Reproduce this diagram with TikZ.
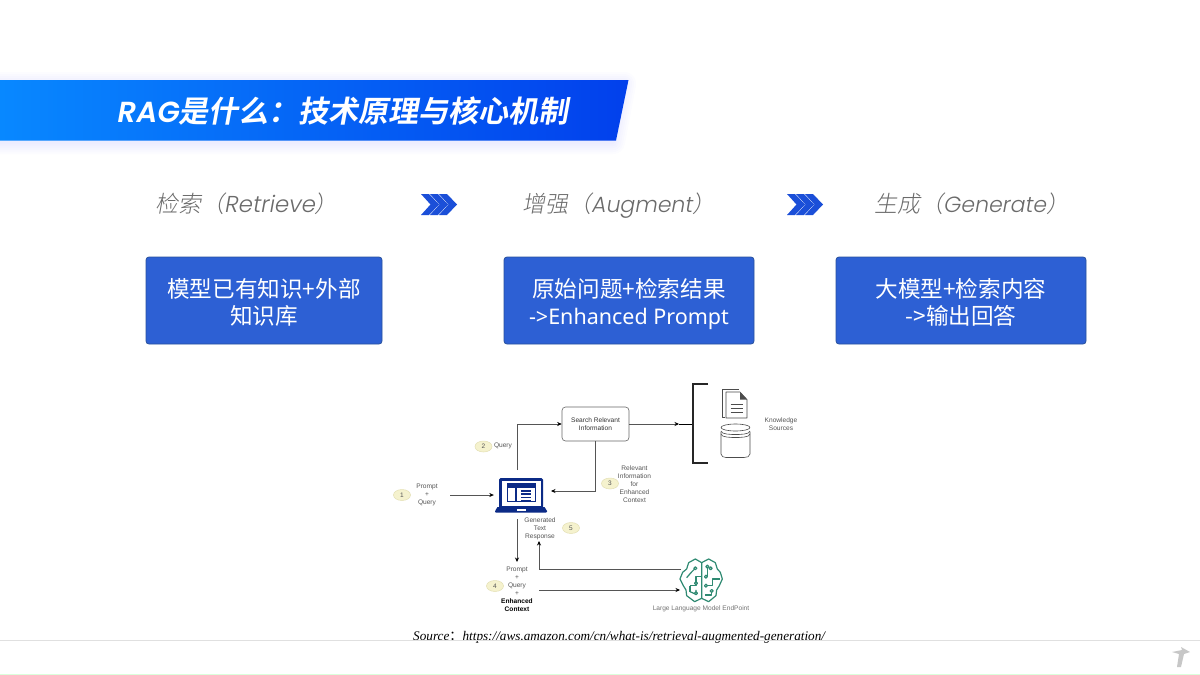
\documentclass[tikz,border=0pt]{standalone}
\usepackage{fontspec}
\usetikzlibrary{arrows.meta}
\usetikzlibrary{shapes.geometric}
\setmainfont{Liberation Sans}
\newfontfamily\cjk{Noto Sans CJK SC}
\newfontfamily\cjkslant[FakeSlant=0.18]{Noto Sans CJK SC Light}
\newfontfamily\cjkbold[FakeSlant=0.18]{Noto Sans CJK SC Bold}
\newfontfamily\latslant[FakeSlant=0.18]{Poppins Light}
\newfontfamily\latbold[FakeSlant=0.18]{Poppins SemiBold}
\newfontfamily\latbox{Noto Sans}
\newfontfamily\srcfont{Liberation Serif}
\definecolor{boxblue}{HTML}{2D60D4}
\definecolor{boxedge}{HTML}{28509C}
\definecolor{chev}{HTML}{1B4FD8}
\definecolor{navy}{HTML}{0B2A86}
\definecolor{teal1}{HTML}{2F8A72}
\definecolor{badgefill}{HTML}{F5F2CE}
\definecolor{badgeedge}{HTML}{E4E0B4}
\definecolor{smalltxt}{HTML}{555555}
\definecolor{linegrey}{HTML}{555555}
\tikzset{
  x=1pt,y=-1pt,
  stagehead/.style={inner sep=0pt,anchor=base west,text=black!58,font=\fontsize{23}{28}\selectfont},
  bluebox/.style={draw=boxedge,line width=.8pt,fill=boxblue,rounded corners=3pt,text=white,inner sep=0pt,align=center,text depth=0pt,font=\cjk\fontsize{22.6}{27}\selectfont},
  small/.style={inner sep=0pt,text=smalltxt,align=center,font=\fontsize{6.6}{8}\selectfont},
  badge/.style={ellipse,draw=badgeedge,fill=badgefill,line width=.5pt,minimum width=17pt,minimum height=11pt,inner sep=0pt,text=smalltxt,font=\fontsize{6.5}{7}\selectfont},
  conn/.style={draw=linegrey,line width=.6pt},
  arr/.style={conn,-{Stealth[length=4.5pt,width=4pt,color=black]}},
  iconline/.style={draw=black!70,line width=.6pt,line join=round},
  chevshape/.style={fill=chev},
}
\newcommand{\chevrons}[1]{%
  \foreach \q in {0,9,18}{
    \fill[chevshape,shift={(#1+\q,0)}] (0,194) -- (8,194) -- (18,204.5) -- (8,215) -- (0,215) -- (9.5,204.5) -- cycle;
  }}
\begin{document}
\begin{tikzpicture}
\useasboundingbox (0,0) rectangle (1200,675);
\fill[white] (0,0) rectangle (1200,675);
% banner shadow
\foreach \w in {24,20,16,12,8,4}{
  \draw[line width=\w pt,blue!70!white,opacity=.014,line join=round] (-20,84) -- (624,84) -- (613,142) -- (-20,142) -- cycle;
}
\shade[left color={rgb,255:red,8;green,136;blue,255},right color={rgb,255:red,2;green,64;blue,236}]
  (0,80) -- (628.5,80) -- (616,140.5) -- (0,140.5) -- cycle;
\node[anchor=west,inner sep=0pt,text=white] (title) at (116.5,110.5) {\fontsize{29}{34}\selectfont{\latbold RAG}\cjkbold\fontsize{30}{34}\selectfont 是什么：技术原理与核心机制};
% stage headings
\node[stagehead] (h1) at (155,212) {\cjkslant 检索（{\latslant Retrieve}）};
\node[stagehead] (h2) at (522,212) {\cjkslant 增强（{\latslant\fontsize{22}{28}\selectfont Augment}）};
\node[stagehead] (h3) at (874,212) {\cjkslant 生成（{\latslant\fontsize{22}{28}\selectfont Generate}）};
\chevrons{421}
\chevrons{787}
% blue boxes
\node[bluebox,minimum width=236pt,minimum height=87pt] (b1) at (264,300.5) {\raisebox{-2pt}{模型已有知识+外部}\\\raisebox{-2pt}{知识库}};
\node[bluebox,minimum width=250pt,minimum height=87pt] (b2) at (629,300.5) {\raisebox{-2pt}{原始问题+检索结果}\\\raisebox{-2pt}{\latbox\fontsize{21.5}{27}\selectfont ->Enhanced Prompt}};
\node[bluebox,minimum width=250pt,minimum height=87pt] (b3) at (961,300.5) {\raisebox{-2pt}{大模型+检索内容}\\\raisebox{-2pt}{->输出回答}};
% flow diagram nodes
\node[draw=black!60,line width=.6pt,rounded corners=3.5pt,minimum width=67pt,minimum height=34pt,inner sep=0pt,small,text=black!80] (search) at (595.5,424) {Search Relevant\\Information};
\node[minimum width=54pt,minimum height=34pt,inner sep=0pt] (laptop) at (521,495) {};
\node[small,minimum width=46pt] (prompt) at (427,495) {Prompt\\+\\Query};
\node[small] (query) at (503,446) {Query};
\node[small] (relevant) at (634.5,484.5) {Relevant\\Information\\for\\Enhanced\\Context};
\node[small] (generated) at (540,528.5) {Generated\\Text\\Response};
\node[small,anchor=north] (stack) at (517,567) {Prompt\\+\\Query\\+\\\textbf{\textcolor{black}{Enhanced}}\\\textbf{\textcolor{black}{Context}}};
\node[small] (ks) at (781,424) {Knowledge\\Sources};
\node[minimum width=43pt,minimum height=43pt,inner sep=0pt] (llm) at (701.5,580.5) {};
\node[small,text=black!55] (llmlabel) at (701,608.5) {Large Language Model EndPoint};
\node[badge] (n1) at (402,495) {1};
\node[badge] (n2) at (483.5,446.5) {2};
\node[badge] (n3) at (610,483.5) {3};
\node[badge] (n4) at (495,586) {4};
\node[badge] (n5) at (571,528) {5};
\coordinate (kbin) at (693,424);
\coordinate (kbmid) at (679,424);
\coordinate (ret) at (595.7,491);
\coordinate (stackout) at (539,590);
\coordinate (llmin) at (680,590);
\coordinate (llmout) at (681,569);
\coordinate (genbend) at (539,569);
\coordinate (lapin) at (551,491);
\coordinate (upbend) at (517,424);
\coordinate (upstart) at (517,470);
\coordinate (downstart) at (517,519);
\coordinate (downend) at (517,562);
\coordinate (genend) at (539,541);
% connectors
\draw[arr] (prompt.east) -- (laptop.west);
\draw[arr] (upstart) -- (upbend) -- (search.west);
\draw[arr] (search.south -| ret) -- (ret) -- (lapin);
\draw[arr] (search.east) -- (kbmid);
\draw[draw=black,line width=.9pt] (kbmid) -- (kbin);
\draw[arr] (downstart) -- (downend);
\draw[arr] (llmout) -- (genbend) -- (genend);
\draw[arr] (stackout) -- (llmin);
% bracket
\draw[draw=black!85,line width=1.1pt] (708,384) -- (693,384) -- (693,463) -- (708,463);
% document icon
\begin{scope}[iconline]
  \draw (725,417.5) -- (722,417.5) -- (722,389) -- (739,389);
  \fill[white] (725.5,392) rectangle (746.5,418);
  \draw (726,392) -- (740,392) -- (747,399.5) -- (747,418) -- (726,418) -- cycle;
  \fill[black!70] (740,392) -- (747,399.5) -- (740,399.5) -- cycle;
  \draw (730.5,404) -- (742.5,404) (730.5,408) -- (742.5,408) (730.5,412) -- (742.5,412);
\end{scope}
% database icon
\begin{scope}[iconline]
  \draw (721,431.5) -- (721,454) to[out=-90,in=180] (726,457.5) -- (744,457.5) to[out=0,in=-90] (750,454) -- (750,431.5);
  \draw (735.5,427.5) ellipse[x radius=14.5,y radius=3.5];
  \draw (721,431) to[out=-90,in=180,looseness=.6] (735.5,434.5) to[out=0,in=-90,looseness=.6] (750,431);
  \draw (721,434) to[out=-90,in=180,looseness=.6] (735.5,437.5) to[out=0,in=-90,looseness=.6] (750,434);
\end{scope}
% laptop icon
\fill[navy] (499,478) [rounded corners=1.5pt] -- (543,478) -- (543,508) -- (499,508) -- cycle;
\fill[white] (501.5,480.5) rectangle (540.5,506);
\fill[navy] (506.5,482.5) rectangle (536,502);
\fill[white] (508,488) rectangle (515,501);
\fill[white] (517,488) rectangle (535,501);
\foreach \yy in {490,493.3,496.6,499.5}{\fill[navy] (521,\yy) rectangle (531,\yy+1.6);}
\fill[navy] (497.5,507) -- (544.5,507) -- (547,511) [rounded corners=1pt] -- (547,512.5) -- (495,512.5) -- (495,511) [sharp corners] -- cycle;
\fill[white] (516.5,508.8) rectangle (525.5,510.6);
% brain icon
\begin{scope}[shift={(590,375)},x=.3333pt,y=-.3333pt,line width=1.2pt,draw=teal1,line join=round]
  \draw (335,563) -- (316,552) -- (296,563) -- (290,582) -- (278,592) -- (270,612) -- (280,632) -- (288,645) -- (290,662) -- (314,680) -- (335,670) -- cycle;
  \draw (335,563) -- (356,552) -- (376,563) -- (382,582) -- (391,592) -- (397,612) -- (388,632) -- (380,645) -- (378,662) -- (356,680) -- (335,670);
  \draw (290,608) -- (304,592) -- (316,580);
  \draw (300,632) -- (318,632) -- (318,605) -- (335,605);
  \draw (300,650) -- (318,658) -- (318,645);
  \draw (352,575) -- (352,605);
  \draw (345,632) -- (368,632) -- (368,612) -- (390,612);
  \draw (345,660) -- (365,660) -- (365,648);
  \draw (300,650) -- (300,632);
  \foreach \p in {(316,580),(318,625),(318,655),(352,575),(348,605),(348,632),(365,648),(362,580)}{
    \draw[fill=white] \p circle[radius=4.5];
  }
\end{scope}
% source line
\node[inner sep=0pt,anchor=west,text=black] (source) at (413,637) {\srcfont\itshape\fontsize{13.2}{16}\selectfont Source{\cjk\upshape\fontsize{13.2}{16}\selectfont ：}https://aws.amazon.com/cn/what-is/retrieval-augmented-generation/};
% footer
\draw[black!12,line width=.7pt] (0,640.5) -- (1200,640.5);
\draw[green!40!white,opacity=.35,line width=.7pt] (0,674) -- (1200,674);
\fill[black!22] (1172,652) -- (1182,650) -- (1181,647) -- (1190,652) -- (1184,654) -- (1181,667) -- (1177,667) -- (1179,654) -- cycle;
\end{tikzpicture}
\end{document}
